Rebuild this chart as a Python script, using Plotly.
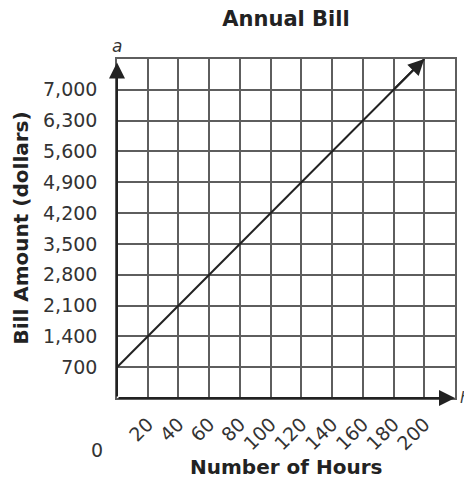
import plotly.graph_objects as go

# Data
hours = [0, 200]
bill = [700, 7700]
x_ticks = [20, 40, 60, 80, 100, 120, 140, 160, 180, 200]
y_ticks = [700, 1400, 2100, 2800, 3500, 4200, 4900, 5600, 6300, 7000]
y_tick_labels = ["700", "1,400", "2,100", "2,800", "3,500", "4,200", "4,900", "5,600", "6,300", "7,000"]
x_max = 220
y_max = 7700

FONT = "DejaVu Sans"
GRID = "#5e5e5e"
DARK = "#222222"
W, H = 464, 475

fig = go.Figure()

fig.add_trace(go.Scatter(x=hours, y=bill, mode="lines",
                         line=dict(color=DARK, width=2), hoverinfo="skip",
                         showlegend=False))

annotations = []
annotations.append(dict(x=hours[-1], y=bill[-1], ax=hours[-1] - 20, ay=bill[-1] - 700,
                        xref="x", yref="y", axref="x", ayref="y", text="",
                        showarrow=True, arrowhead=2, arrowsize=1.6, arrowwidth=2,
                        arrowcolor=DARK, standoff=0))
annotations.append(dict(x=0, y=y_max * 0.99, ax=0, ay=0,
                        xref="x", yref="y", axref="x", ayref="y", text="",
                        showarrow=True, arrowhead=2, arrowsize=1.6, arrowwidth=2,
                        arrowcolor=DARK, standoff=0))
annotations.append(dict(x=x_max, y=0, ax=0, ay=0,
                        xref="x", yref="y", axref="x", ayref="y", text="",
                        showarrow=True, arrowhead=2, arrowsize=1.6, arrowwidth=2,
                        arrowcolor=DARK, standoff=0))
annotations.append(dict(x=0, y=y_max, xref="x", yref="y", text="<i>a</i>",
                        showarrow=False, yshift=13, yanchor="middle",
                        font=dict(family=FONT, size=17, color="#333333")))
annotations.append(dict(x=x_max, y=0, xref="x", yref="y", text="<i>h</i>",
                        showarrow=False, xshift=3, xanchor="left",
                        font=dict(family=FONT, size=15, color="#333333")))
annotations.append(dict(x=0, y=0, xref="x", yref="y", text="0",
                        showarrow=False, xshift=-20, yshift=-52,
                        font=dict(family=FONT, size=19, color="#333333")))
annotations.append(dict(x=0.5, y=0, xref="paper", yref="paper",
                        text="<b>Number of Hours</b>", showarrow=False,
                        yshift=-69, yanchor="middle",
                        font=dict(family=FONT, size=20, color=DARK)))
annotations.append(dict(x=0, y=0.5, xref="paper", yref="paper",
                        text="<b>Bill Amount (dollars)</b>", showarrow=False,
                        xshift=-97, textangle=-90, xanchor="center",
                        font=dict(family=FONT, size=20, color=DARK)))

fig.update_layout(
    width=W, height=H,
    margin=dict(l=109, r=17, t=51, b=85),
    paper_bgcolor="white", plot_bgcolor="white",
    title=dict(text="<b>Annual Bill</b>", x=0.5, xref="paper",
               y=1 - 11 / H, yref="container", yanchor="middle",
               font=dict(family=FONT, size=21, color=DARK)),
    xaxis=dict(range=[0, x_max], tickvals=x_ticks, ticktext=[str(v) for v in x_ticks],
               tickangle=-45, showgrid=True, gridcolor=GRID, gridwidth=1.5,
               zeroline=False, showline=True, linecolor=GRID, linewidth=1.5, mirror=True,
               ticks="", ticklabelstandoff=6,
               tickfont=dict(family=FONT, size=19, color="#333333"), fixedrange=True),
    yaxis=dict(range=[0, y_max], tickvals=y_ticks, ticktext=y_tick_labels,
               showgrid=True, gridcolor=GRID, gridwidth=1.5,
               zeroline=False, showline=True, linecolor=GRID, linewidth=1.5, mirror=True,
               ticks="", ticklabelstandoff=14,
               tickfont=dict(family=FONT, size=19, color="#333333"), fixedrange=True),
    annotations=annotations,
)

fig.write_html("out.html")
